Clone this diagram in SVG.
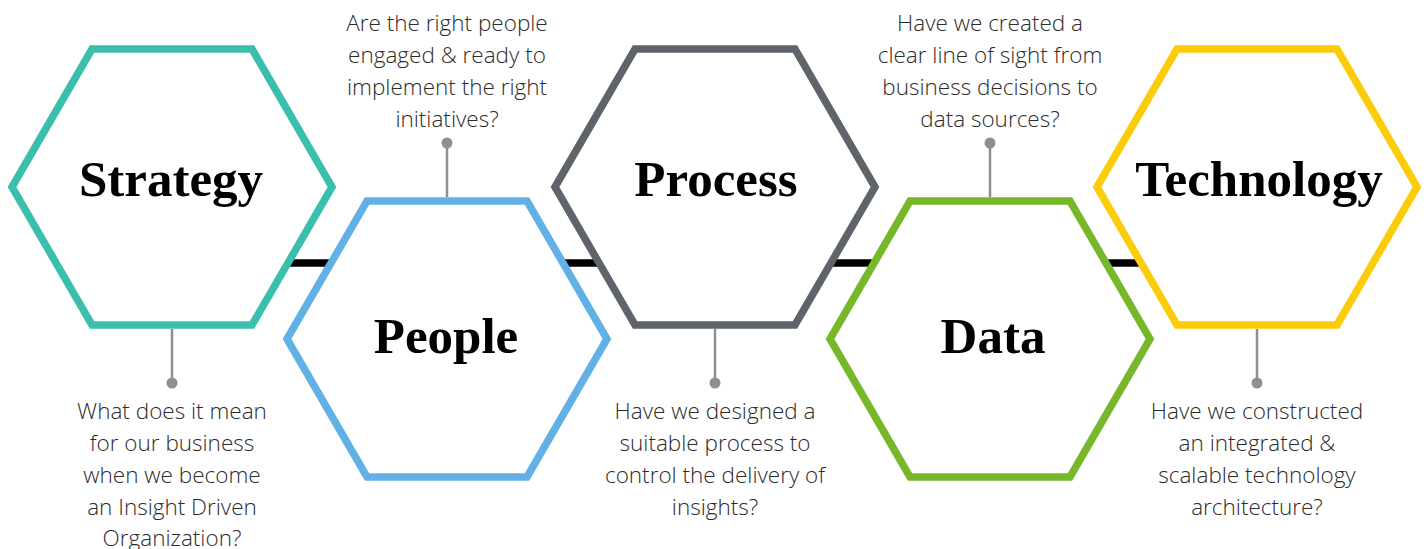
<svg xmlns="http://www.w3.org/2000/svg" width="1426" height="549" viewBox="0 0 1426 549">
<style>
.hex{fill:#fff;stroke-width:7.5;stroke-linejoin:miter}
.title{font-family:"Liberation Serif","Times New Roman",serif;font-weight:bold;font-size:51px;fill:#000;text-anchor:middle}
.q{font-family:"Open Sans","Noto Sans",sans-serif;font-weight:300;font-size:22.5px;fill:#2b2b2b;text-anchor:middle}
.pin{stroke:#8c8f94;stroke-width:2.5}
.dot{fill:#8c8f94}
</style>
<defs>
<polygon id="hx" points="-160,0 -80,-138 80,-138 160,0 80,138 -80,138"/>
</defs>
<g id="connectors">
<line x1="172" y1="263" x2="1257" y2="263" stroke="#000" stroke-width="7.5"/>
<line class="pin" x1="172" y1="329" x2="172" y2="383"/><circle class="dot" cx="172" cy="383" r="5.5"/>
<line class="pin" x1="447" y1="143" x2="447" y2="197"/><circle class="dot" cx="447" cy="143" r="5.5"/>
<line class="pin" x1="715" y1="329" x2="715" y2="383"/><circle class="dot" cx="715" cy="383" r="5.5"/>
<line class="pin" x1="990" y1="143" x2="990" y2="197"/><circle class="dot" cx="990" cy="143" r="5.5"/>
<line class="pin" x1="1257" y1="329" x2="1257" y2="383"/><circle class="dot" cx="1257" cy="383" r="5.5"/>
</g>
<g id="strategy">
<use href="#hx" x="172" y="187" class="hex" stroke="#3bbfad"/>
<text class="title" x="171" y="196">Strategy</text>
<text class="q" x="172" y="419">What does it mean</text>
<text class="q" x="172" y="451">for our business</text>
<text class="q" x="172" y="483">when we become</text>
<text class="q" x="172" y="515">an Insight Driven</text>
<text class="q" x="172" y="546">Organization?</text>
</g>
<g id="people">
<use href="#hx" x="447" y="339" class="hex" stroke="#62b1e6"/>
<text class="title" x="446" y="353">People</text>
<text class="q" x="447" y="31">Are the right people</text>
<text class="q" x="447" y="63">engaged &amp; ready to</text>
<text class="q" x="447" y="95">implement the right</text>
<text class="q" x="447" y="127">initiatives?</text>
</g>
<g id="process">
<use href="#hx" x="715" y="187" class="hex" stroke="#5f636a"/>
<text class="title" x="716" y="196">Process</text>
<text class="q" x="715" y="419">Have we designed a</text>
<text class="q" x="715" y="451">suitable process to</text>
<text class="q" x="715" y="483">control the delivery of</text>
<text class="q" x="715" y="515">insights?</text>
</g>
<g id="data">
<use href="#hx" x="990" y="339" class="hex" stroke="#76b82a"/>
<text class="title" x="993" y="353">Data</text>
<text class="q" x="990" y="31">Have we created a</text>
<text class="q" x="990" y="63">clear line of sight from</text>
<text class="q" x="990" y="95">business decisions to</text>
<text class="q" x="990" y="127">data sources?</text>
</g>
<g id="technology">
<use href="#hx" x="1257" y="187" class="hex" stroke="#fccc0a"/>
<text class="title" x="1259" y="196">Technology</text>
<text class="q" x="1257" y="419">Have we constructed</text>
<text class="q" x="1257" y="451">an integrated &amp;</text>
<text class="q" x="1257" y="483">scalable technology</text>
<text class="q" x="1257" y="515">architecture?</text>
</g>
</svg>
